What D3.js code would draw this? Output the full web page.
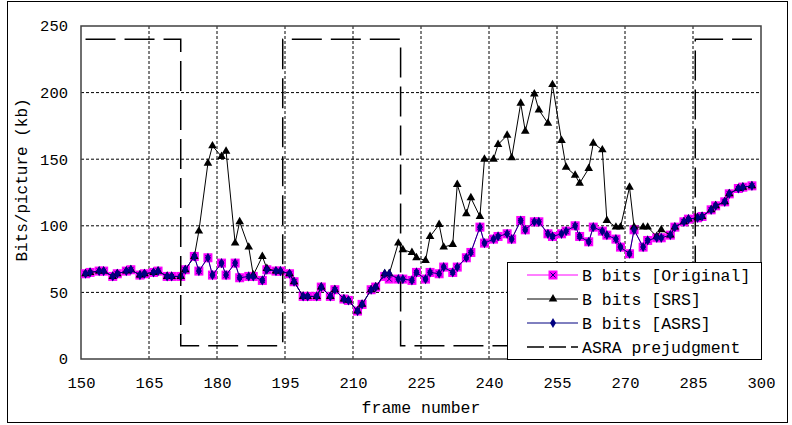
<!DOCTYPE html>
<html>
<head>
<meta charset="utf-8">
<script src="https://cdn.jsdelivr.net/npm/d3@7"></script>
<style>
  body { margin: 0; background: #fff; }
  text { font-family: "Liberation Mono", "DejaVu Sans Mono", monospace; fill: #000; }
</style>
</head>
<body>
<div id="chart"></div>
<script>
// B frame numbers on the x axis
const frames = [151,152,154,155,157,158,160,161,163,164,166,167,169,170,
  172,173,175,176,178,179,181,182,184,185,187,188,190,191,
  193,194,196,197,199,200,202,203,205,206,208,209,211,212,
  214,215,217,218,220,221,223,224,226,227,229,230,232,233,
  235,236,238,239,241,242,244,245,247,248,250,251,253,254,
  256,257,259,260,262,263,265,266,268,269,271,272,274,275,
  277,278,280,281,283,284,286,287,289,290,292,293,295,296,298];

// B bits [Original]
const bitsOriginal = [64,65,66,66,62,64,66,67,63,64,65,66,62,62,
  62,67,77,66,76,63,72,63,72,61,62,62,59,67,
  66,66,64,58,47,47,47,54,47,52,45,44,36,41,
  52,54,62,60,60,60,59,65,60,65,64,69,65,69,
  76,80,99,87,90,92,94,90,104,97,103,103,94,92,
  94,96,100,92,88,99,96,93,90,84,79,97,84,89,
  91,91,93,99,103,105,106,107,112,115,118,124,128,129,130];

// B bits [SRS]
const bitsSRS = [64,65,66,66,62,64,66,67,63,64,65,66,62,62,
  62,67,77,96,147,160,152,156,87,103,84,63,77,68,
  66,66,64,58,47,47,47,54,47,52,45,44,36,41,
  52,54,64,64,87,82,80,76,74,92,101,84,86,131,
  109,121,107,150,150,161,168,151,192,171,199,187,177,206,
  164,144,138,132,143,162,157,104,99,99,129,99,99,99,
  92,97,93,99,103,105,106,107,112,115,118,124,128,129,130];

// B bits [ASRS]
const bitsASRS = [64,65,66,66,62,64,66,67,63,64,65,66,62,62,
  62,67,77,66,76,63,72,63,72,61,62,62,59,67,
  66,66,64,58,47,47,47,54,47,52,45,44,36,41,
  52,54,64,64,60,60,59,65,60,65,64,69,65,69,
  76,80,99,87,90,92,94,90,104,97,103,103,94,92,
  94,96,100,92,88,99,96,93,90,84,79,97,84,89,
  91,91,93,99,103,105,106,107,112,115,118,124,128,129,130];

// ASRA prejudgment (step line)
const prejFrames = [151,172,172,194.5,194.5,220.5,220.5,285.5,285.5,298];
const prejValues = [240,240,10,10,240,240,10,10,240,240];

const xTicks = [150,165,180,195,210,225,240,255,270,285,300];
const yTicks = [0,50,100,150,200,250];

const legendNames = ["B bits [Original]", "B bits [SRS]", "B bits [ASRS]", "ASRA prejudgment"];

//set the dimensions of the svg
const svgwidth = 792;
const svgheight = 425;

const margin = { top: 26, bottom: 66, left: 81, right: 31 };
const width = svgwidth - margin.left - margin.right;
const height = svgheight - margin.top - margin.bottom;

const svg = d3.select('#chart').append('svg')
  .attr('width', svgwidth).attr('height', svgheight);

// outer frame around the whole chart
svg.append('rect')
  .attr('x', 7.5).attr('y', 1.5)
  .attr('width', 780).attr('height', 421)
  .attr('fill', 'none').attr('stroke', '#000').attr('stroke-width', 1);

const chartGroup = svg.append('g')
  .attr('transform', `translate(${margin.left},${margin.top})`);

//scales
const xScale = d3.scaleLinear().domain([150, 300]).range([0, width]);
const yScale = d3.scaleLinear().domain([0, 250]).range([height, 0]);

//gridlines
chartGroup.append('g').selectAll('line')
  .data(yTicks.filter(d => d > 0 && d < 250)).enter()
  .append('line')
  .attr('x1', 0).attr('x2', width)
  .attr('y1', d => yScale(d)).attr('y2', d => yScale(d))
  .attr('stroke', '#000').attr('stroke-dasharray', '3,2');

chartGroup.append('g').selectAll('line')
  .data(xTicks.filter(d => d > 150 && d < 300)).enter()
  .append('line')
  .attr('x1', d => xScale(d)).attr('x2', d => xScale(d))
  .attr('y1', 0).attr('y2', height)
  .attr('stroke', '#000').attr('stroke-dasharray', '3,2');

//axes (labels only, no tick marks)
const xAxis = d3.axisBottom(xScale).tickValues(xTicks).tickSize(0).tickPadding(18);
const yAxis = d3.axisLeft(yScale).tickValues(yTicks).tickSize(0).tickPadding(13);

const gx = chartGroup.append('g')
  .attr('transform', `translate(0, ${height})`).call(xAxis);
const gy = chartGroup.append('g').call(yAxis);
[gx, gy].forEach(g => {
  g.select('.domain').remove();
  g.selectAll('text').style('font-size', '15.5px')
    .style('font-family', '"Liberation Mono", monospace').attr('fill', '#000');
});

// plot area border
chartGroup.append('rect')
  .attr('x', 0).attr('y', 0).attr('width', width).attr('height', height)
  .attr('fill', 'none').attr('stroke', '#404040').attr('stroke-width', 1.5);

//series
const rows = frames.map((f, i) => ({
  f: f, orig: bitsOriginal[i], srs: bitsSRS[i], asrs: bitsASRS[i]
}));

const lineFor = key => d3.line().x(d => xScale(d.f)).y(d => yScale(d[key]));

// Original: magenta line with square markers
chartGroup.append('path').datum(rows)
  .attr('d', lineFor('orig'))
  .attr('fill', 'none').attr('stroke', '#ff00ff').attr('stroke-width', 1);

const sq = chartGroup.append('g').selectAll('g')
  .data(rows).enter().append('g')
  .attr('transform', d => `translate(${xScale(d.f)},${yScale(d.orig)})`);
sq.append('rect')
  .attr('x', -4.5).attr('y', -4.5).attr('width', 9).attr('height', 9)
  .attr('fill', '#ff00ff');
sq.append('path')
  .attr('d', 'M-2.5,-2.5L2.5,2.5M-2.5,2.5L2.5,-2.5')
  .attr('stroke', '#000080').attr('stroke-width', 1);

// SRS: black line with triangles
chartGroup.append('path').datum(rows)
  .attr('d', lineFor('srs'))
  .attr('fill', 'none').attr('stroke', '#000').attr('stroke-width', 1);

chartGroup.append('g').selectAll('path')
  .data(rows).enter().append('path')
  .attr('d', d3.symbol().type(d3.symbolTriangle).size(32))
  .attr('transform', d => `translate(${xScale(d.f)},${yScale(d.srs)})`)
  .attr('fill', '#000');

// ASRS: navy line with diamonds
chartGroup.append('path').datum(rows)
  .attr('d', lineFor('asrs'))
  .attr('fill', 'none').attr('stroke', '#000080').attr('stroke-width', 1);

chartGroup.append('g').selectAll('path')
  .data(rows).enter().append('path')
  .attr('d', d3.symbol().type(d3.symbolDiamond).size(30))
  .attr('transform', d => `translate(${xScale(d.f)},${yScale(d.asrs)})`)
  .attr('fill', '#000080');

// ASRA prejudgment: long dashed step line
const prejRows = prejFrames.map((f, i) => ({ f: f, v: prejValues[i] }));
chartGroup.append('path').datum(prejRows)
  .attr('d', d3.line().x(d => xScale(d.f)).y(d => yScale(d.v)))
  .attr('fill', 'none').attr('stroke', '#000').attr('stroke-width', 1.5)
  .attr('stroke-dasharray', '30,9');

////////TEXT LABELS///////////////////
svg.append('text')
  .attr('x', margin.left + width / 2).attr('y', 413)
  .style('text-anchor', 'middle').style('font-size', '16.5px')
  .text('frame number');

svg.append('text')
  .attr('transform', 'translate(27, 180) rotate(-90)')
  .style('text-anchor', 'middle').style('font-size', '16px')
  .text('Bits/picture (kb)');

//legend
const legend = svg.append('g').attr('transform', 'translate(507, 262)');
legend.append('rect')
  .attr('x', 0.5).attr('y', 0.5).attr('width', 254).attr('height', 97)
  .attr('fill', '#fff').attr('stroke', '#000').attr('stroke-width', 1);

const legendColors = ['#ff00ff', '#000', '#000080', '#000'];
legendNames.forEach((name, i) => {
  const ly = 13 + i * 24;
  const item = legend.append('g').attr('transform', `translate(0, ${ly})`);
  item.append('line')
    .attr('x1', 20).attr('x2', 71).attr('y1', 0).attr('y2', 0)
    .attr('stroke', legendColors[i]).attr('stroke-width', i === 3 ? 1.5 : 1)
    .attr('stroke-dasharray', i === 3 ? '17,5' : null);
  if (i === 0) {
    item.append('rect').attr('x', 41.5).attr('y', -4.5).attr('width', 9).attr('height', 9)
      .attr('fill', '#ff00ff');
    item.append('path').attr('d', 'M43.5,-2.5L48.5,2.5M43.5,2.5L48.5,-2.5')
      .attr('stroke', '#000080').attr('stroke-width', 1);
  } else if (i === 1) {
    item.append('path').attr('d', d3.symbol().type(d3.symbolTriangle).size(32))
      .attr('transform', 'translate(46, 0)').attr('fill', '#000');
  } else if (i === 2) {
    item.append('path').attr('d', d3.symbol().type(d3.symbolDiamond).size(30))
      .attr('transform', 'translate(46, 0)').attr('fill', '#000080');
  }
  item.append('text')
    .attr('x', 75).attr('y', 6)
    .style('font-size', '16.5px')
    .text(name);
});
</script>
</body>
</html>
